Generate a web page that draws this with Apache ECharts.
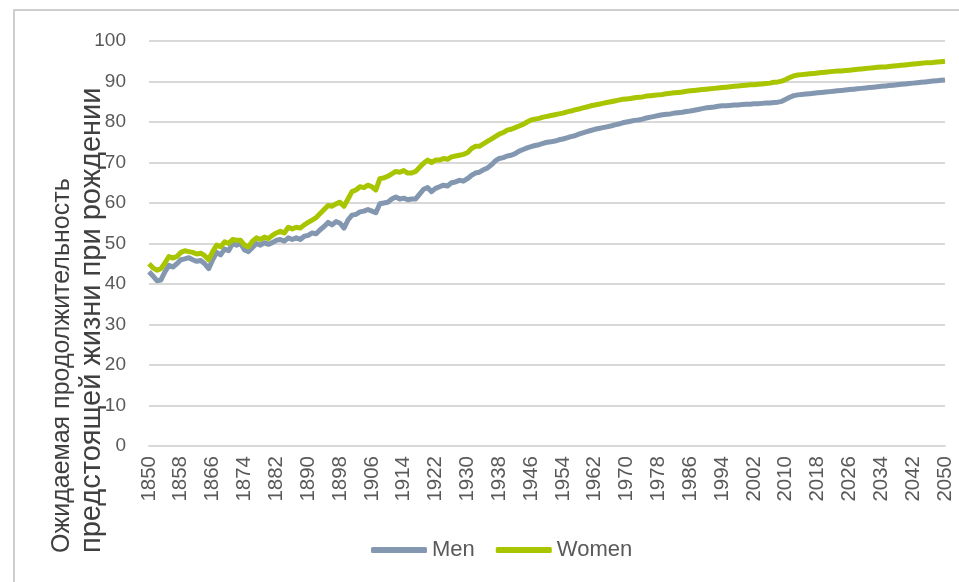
<!DOCTYPE html>
<html>
<head>
<meta charset="utf-8">
<script src="https://cdn.jsdelivr.net/npm/echarts@6/dist/echarts.min.js"></script>
<style>html,body{margin:0;padding:0;background:#fff}#c{width:959px;height:582px}</style>
</head>
<body>
<div id="c"></div>
<script>
const years = [];
for (let y = 1850; y <= 2050; y++) years.push(String(y));

const men = [
43.0,42.0,40.8,41.0,43.0,44.6,44.2,45.0,46.0,46.2,
46.5,46.0,45.6,45.8,45.0,43.8,46.0,47.8,47.2,48.6,
48.2,50.0,49.6,50.0,48.4,48.0,49.0,50.0,49.6,50.2,
49.8,50.2,50.8,51.0,50.6,51.4,51.0,51.4,51.0,51.8,
52.0,52.6,52.4,53.4,54.2,55.2,54.6,55.4,55.0,53.8,
55.8,57.0,57.2,57.8,58.0,58.4,58.0,57.6,59.8,60.0,
60.2,61.0,61.5,61.0,61.2,60.8,61.0,61.0,62.2,63.4,
63.8,62.8,63.6,64.0,64.4,64.2,65.0,65.2,65.6,65.4,
66.0,66.8,67.4,67.6,68.2,68.6,69.4,70.4,71.0,71.2,
71.6,71.8,72.2,72.8,73.2,73.6,73.9,74.2,74.4,74.7,
75.0,75.1,75.3,75.6,75.8,76.1,76.4,76.6,77.0,77.3,
77.6,77.9,78.2,78.4,78.6,78.8,79.0,79.3,79.5,79.8,
80.0,80.2,80.4,80.5,80.7,81.0,81.2,81.4,81.6,81.8,
81.9,82.0,82.2,82.3,82.4,82.6,82.7,82.9,83.1,83.3,
83.5,83.6,83.7,83.9,84.0,84.0,84.1,84.2,84.2,84.3,
84.4,84.4,84.5,84.5,84.6,84.7,84.7,84.8,84.9,85.1,
85.6,86.1,86.5,86.7,86.8,86.9,87.0,87.1,87.2,87.3,
87.4,87.5,87.6,87.7,87.8,87.9,88.0,88.1,88.2,88.3,
88.4,88.5,88.6,88.7,88.8,88.9,89.0,89.1,89.2,89.3,
89.4,89.5,89.6,89.7,89.8,89.9,90.0,90.1,90.2,90.3,
90.4
];

const women = [
45.0,44.0,43.4,43.8,45.2,46.8,46.4,46.8,47.8,48.2,
48.0,47.8,47.4,47.6,47.0,46.0,48.0,49.6,49.2,50.4,
50.0,51.0,50.8,50.8,49.6,49.2,50.6,51.4,51.0,51.6,
51.2,52.0,52.6,53.0,52.6,54.0,53.6,54.0,53.8,54.6,
55.2,55.8,56.4,57.4,58.4,59.4,59.2,59.8,60.2,59.2,
61.0,62.8,63.2,64.0,63.8,64.4,64.0,63.2,66.0,66.2,
66.6,67.2,67.8,67.6,68.0,67.4,67.4,67.8,68.8,69.8,
70.6,70.0,70.6,70.6,71.0,70.8,71.4,71.6,71.8,72.0,
72.4,73.4,74.0,74.0,74.6,75.2,75.8,76.4,77.0,77.4,
78.0,78.2,78.6,79.0,79.4,80.0,80.5,80.7,80.9,81.2,
81.4,81.6,81.8,82.0,82.2,82.5,82.7,83.0,83.2,83.5,
83.7,84.0,84.2,84.4,84.6,84.8,85.0,85.2,85.4,85.6,
85.7,85.8,86.0,86.1,86.2,86.4,86.5,86.6,86.7,86.8,
87.0,87.1,87.2,87.3,87.4,87.6,87.7,87.8,87.9,88.0,
88.1,88.2,88.3,88.4,88.5,88.6,88.7,88.8,88.9,89.0,
89.1,89.2,89.2,89.3,89.4,89.5,89.6,89.8,89.9,90.1,
90.5,91.0,91.4,91.6,91.7,91.8,91.9,92.0,92.1,92.2,
92.3,92.4,92.5,92.6,92.6,92.7,92.8,92.9,93.0,93.1,
93.2,93.3,93.4,93.5,93.6,93.6,93.7,93.8,93.9,94.0,
94.1,94.2,94.3,94.4,94.5,94.6,94.6,94.7,94.8,94.9,
95.0
];

const yTicks = [0, 10, 20, 30, 40, 50, 60, 70, 80, 90, 100];
const seriesNames = ['Men', 'Women'];
const axisTitleLines = ['Ожидаемая продолжительность', 'предстоящей жизни при рождении'];
const FONT = 'Liberation Sans, Arial, sans-serif';

const chart = echarts.init(document.getElementById('c'));
chart.setOption({
  animation: false,
  backgroundColor: '#fff',
  color: ['#8497b0', '#a9c500'],
  textStyle: { fontFamily: FONT },
  grid: { left: 149, right: 14, top: 41, bottom: 136, containLabel: false },
  legend: {
    data: seriesNames,
    left: 366, top: 534,
    icon: 'roundRect',
    itemWidth: 56, itemHeight: 6, itemGap: 21,
    textStyle: { fontSize: 22, color: '#595959' }
  },
  xAxis: {
    type: 'category',
    data: years,
    boundaryGap: false,
    axisTick: { show: false },
    axisLine: { lineStyle: { color: '#d9d9d9', width: 2 } },
    axisLabel: { interval: 7, rotate: 90, fontSize: 20.5, color: '#595959', margin: 10 },
    splitLine: { show: false }
  },
  yAxis: {
    type: 'value',
    min: yTicks[0], max: yTicks[yTicks.length - 1], interval: 10,
    axisLine: { show: false },
    axisTick: { show: false },
    axisLabel: { fontSize: 19, color: '#595959', margin: 23 },
    splitLine: { lineStyle: { color: '#d9d9d9', width: 2 } }
  },
  graphic: [
    { type: 'rect', shape: { x: 14, y: 10, width: 1000, height: 700 }, style: { fill: 'none', stroke: '#bfbfbf', lineWidth: 1.5 }, silent: true },
    { type: 'text', x: 62, y: 553, rotation: Math.PI / 2,
      style: { text: axisTitleLines[0], fontSize: 25, fill: '#404040', textAlign: 'left', textVerticalAlign: 'middle', fontFamily: FONT } },
    { type: 'text', x: 92, y: 553, rotation: Math.PI / 2,
      style: { text: axisTitleLines[1], fontSize: 29, fill: '#404040', textAlign: 'left', textVerticalAlign: 'middle', fontFamily: FONT } }
  ],
  series: [
    { name: seriesNames[0], type: 'line', data: men, symbol: 'none', lineStyle: { width: 5, join: 'round' } },
    { name: seriesNames[1], type: 'line', data: women, symbol: 'none', lineStyle: { width: 5, join: 'round' } }
  ]
});
</script>
</body>
</html>
